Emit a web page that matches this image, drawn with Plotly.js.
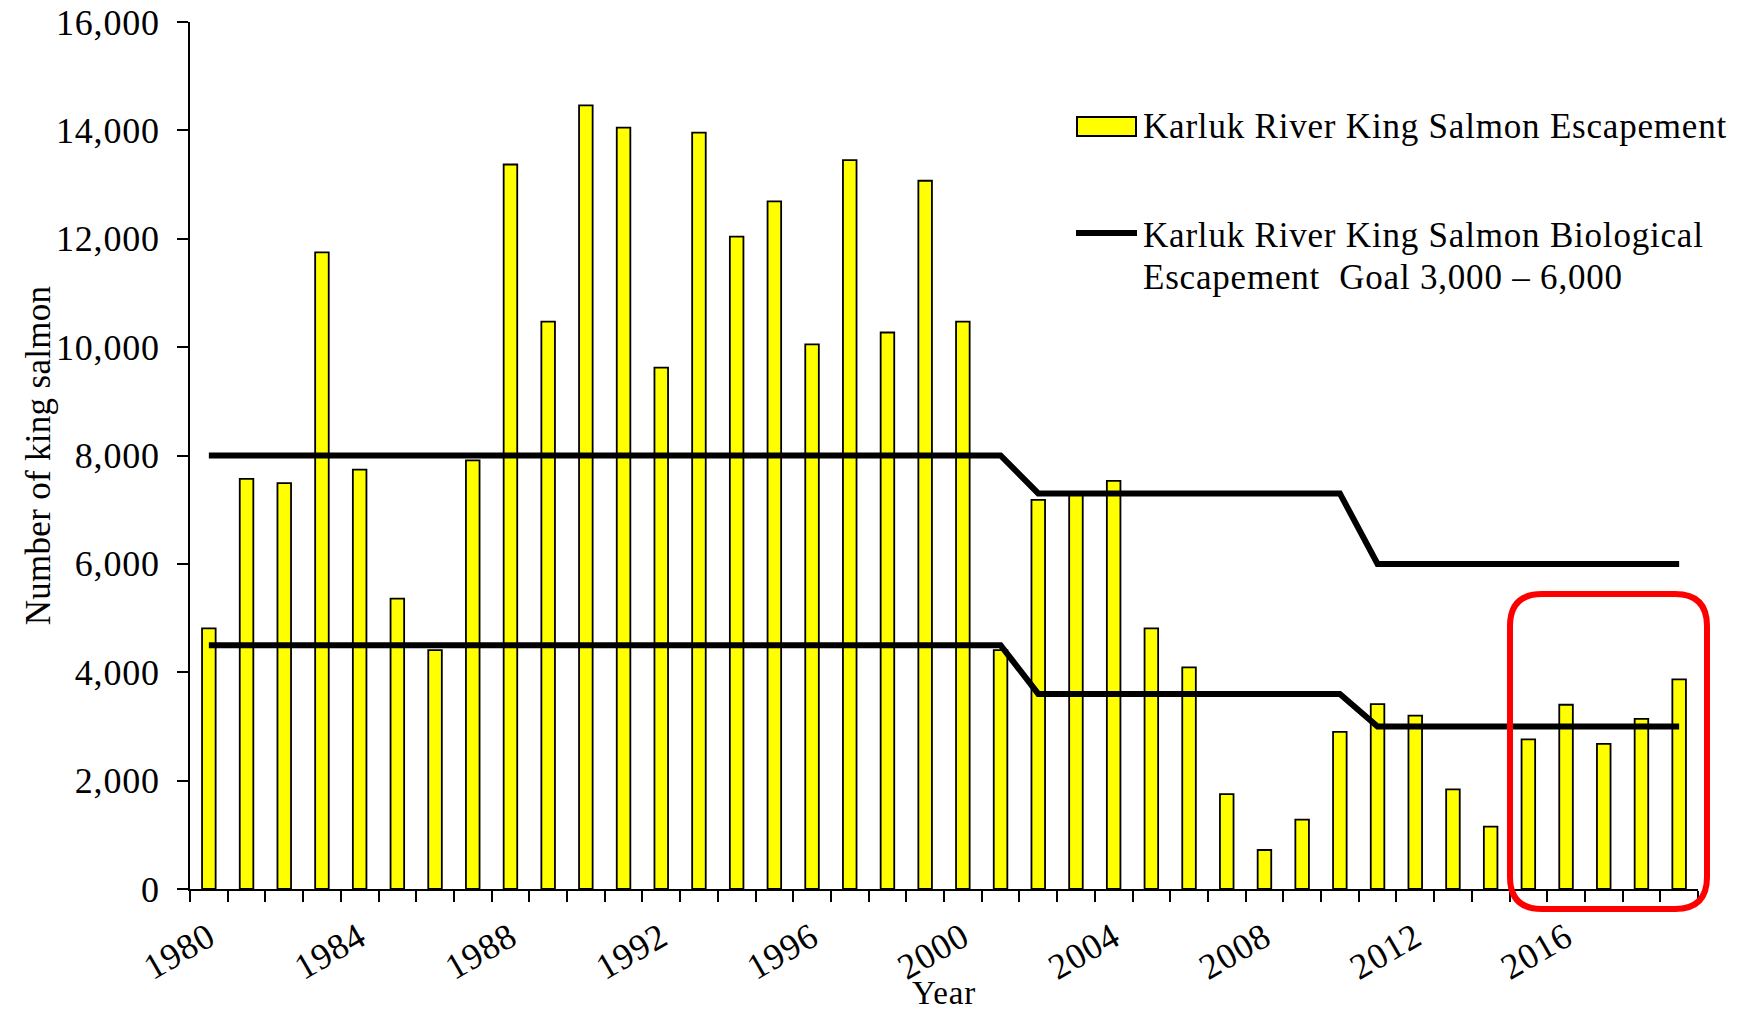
<!DOCTYPE html>
<html>
<head>
<meta charset="utf-8">
<script src="https://cdn.plot.ly/plotly-3.0.1.min.js"></script>
<style>
  html, body { margin: 0; padding: 0; background: #ffffff; }
  #chart { width: 1750px; height: 1011px; }
  #chart svg text { letter-spacing: 0.8px; }
  #chart svg text.ytitle { letter-spacing: 0.3px; }
</style>
</head>
<body>
<div id="chart"></div>
<script>
// ---------------- DATA ----------------
const years = [1980, 1981, 1982, 1983, 1984, 1985, 1986, 1987, 1988, 1989,
               1990, 1991, 1992, 1993, 1994, 1995, 1996, 1997, 1998, 1999,
               2000, 2001, 2002, 2003, 2004, 2005, 2006, 2007, 2008, 2009,
               2010, 2011, 2012, 2013, 2014, 2015, 2016, 2017, 2018, 2019];

const escapement = [4810, 7570, 7490, 11750, 7740, 5360, 4410, 7910, 13370, 10470,
                    14460, 14050, 9620, 13960, 12040, 12690, 10050, 13450, 10270, 13070,
                    10470, 4410, 7180, 7270, 7530, 4810, 4090, 1750, 720, 1280,
                    2900, 3410, 3200, 1840, 1150, 2760, 3400, 2680, 3140, 3870];

const goalUpper = [8000, 8000, 8000, 8000, 8000, 8000, 8000, 8000, 8000, 8000,
                   8000, 8000, 8000, 8000, 8000, 8000, 8000, 8000, 8000, 8000,
                   8000, 8000, 7300, 7300, 7300, 7300, 7300, 7300, 7300, 7300,
                   7300, 6000, 6000, 6000, 6000, 6000, 6000, 6000, 6000, 6000];

const goalLower = [4500, 4500, 4500, 4500, 4500, 4500, 4500, 4500, 4500, 4500,
                   4500, 4500, 4500, 4500, 4500, 4500, 4500, 4500, 4500, 4500,
                   4500, 4500, 3600, 3600, 3600, 3600, 3600, 3600, 3600, 3600,
                   3600, 3000, 3000, 3000, 3000, 3000, 3000, 3000, 3000, 3000];

const tickYears = [1980, 1984, 1988, 1992, 1996, 2000, 2004, 2008, 2012, 2016];
const yTicks = [0, 2000, 4000, 6000, 8000, 10000, 12000, 14000, 16000];

const barName = "Karluk River King Salmon Escapement";
const goalLine1 = "Karluk River King Salmon Biological";
const goalLine2 = "Escapement  Goal 3,000 \u2013 6,000";
const goalName = goalLine1 + " " + goalLine2;

// ---------------- LAYOUT GEOMETRY ----------------
const W = 1750, H = 1011;
const M = { l: 190, r: 52, t: 22, b: 122 };
const PW = W - M.l - M.r, PH = H - M.t - M.b;
const px = X => (X - M.l) / PW;          // pixel x -> paper x
const py = Y => (H - M.b - Y) / PH;      // pixel y -> paper y

const FONT = '"Liberation Serif", "Times New Roman", Times, serif';

const traces = [
  {
    type: 'bar', x: years, y: escapement, name: barName,
    width: 0.36,
    marker: { color: '#FFFF00', line: { color: '#000000', width: 1.8 } },
    showlegend: false, hoverinfo: 'skip'
  },
  {
    type: 'scatter', mode: 'lines', x: years, y: goalUpper, name: goalName,
    line: { color: '#000000', width: 6 }, showlegend: false, hoverinfo: 'skip'
  },
  {
    type: 'scatter', mode: 'lines', x: years, y: goalLower, name: goalName,
    line: { color: '#000000', width: 6 }, showlegend: false, hoverinfo: 'skip'
  }
];

// rounded red highlight box
function roundedRect(X0, Y0, X1, Y1, r) {
  const x0 = px(X0), x1 = px(X1), yT = py(Y0), yB = py(Y1);
  const rx = r / PW, ry = r / PH;
  return `M ${x0 + rx} ${yT} L ${x1 - rx} ${yT} Q ${x1} ${yT} ${x1} ${yT - ry} ` +
         `L ${x1} ${yB + ry} Q ${x1} ${yB} ${x1 - rx} ${yB} ` +
         `L ${x0 + rx} ${yB} Q ${x0} ${yB} ${x0} ${yB + ry} ` +
         `L ${x0} ${yT - ry} Q ${x0} ${yT} ${x0 + rx} ${yT} Z`;
}

const shapes = [
  { type: 'path', xref: 'paper', yref: 'paper', path: roundedRect(1510, 594, 1707, 909, 32),
    line: { color: '#FF0000', width: 6 }, fillcolor: 'rgba(0,0,0,0)', layer: 'above' },
  // legend symbols
  { type: 'rect', xref: 'paper', yref: 'paper', x0: px(1077), x1: px(1136), y0: py(136), y1: py(117),
    fillcolor: '#FFFF00', line: { color: '#000000', width: 2 } },
  { type: 'line', xref: 'paper', yref: 'paper', x0: px(1076), x1: px(1137), y0: py(233), y1: py(233),
    line: { color: '#000000', width: 6 } }
];

const legFont = { family: FONT, size: 35, color: '#000000' };
const annotations = [
  { xref: 'paper', yref: 'paper', x: px(1141), y: py(126), xanchor: 'left', yanchor: 'middle',
    text: barName, showarrow: false, align: 'left', font: legFont },
  { xref: 'paper', yref: 'paper', x: px(1141), y: py(235), xanchor: 'left', yanchor: 'middle',
    text: goalLine1, showarrow: false, align: 'left', font: legFont },
  { xref: 'paper', yref: 'paper', x: px(1141), y: py(277), xanchor: 'left', yanchor: 'middle',
    text: goalLine2, showarrow: false, align: 'left', font: legFont }
];

const layout = {
  width: W, height: H,
  margin: M,
  paper_bgcolor: '#ffffff', plot_bgcolor: '#ffffff',
  font: { family: FONT, size: 34, color: '#000000' },
  showlegend: false,
  bargap: 0,
  xaxis: {
    type: 'linear',
    range: [1979.5, 2019.5],
    tickmode: 'array', tickvals: tickYears, ticktext: tickYears.map(String),
    ticks: 'outside', ticklen: 11, tickcolor: 'rgba(0,0,0,0)', tickwidth: 2,
    tickangle: -30,
    tickfont: { family: FONT, size: 36, color: '#000000' },
    minor: { tickmode: 'linear', tick0: 1979.5, dtick: 1, ticks: 'outside', ticklen: 11,
             tickwidth: 2, tickcolor: '#000000', showgrid: false },
    showline: true, linecolor: '#000000', linewidth: 2,
    showgrid: false, zeroline: false,
    title: { text: 'Year', font: { family: FONT, size: 33, color: '#000000' }, standoff: 0 }
  },
  yaxis: {
    range: [0, 16000],
    tickmode: 'array', tickvals: yTicks,
    tickformat: ',d',
    ticks: 'outside', ticklen: 11, tickwidth: 2, tickcolor: '#000000',
    ticklabelstandoff: 10,
    tickfont: { family: FONT, size: 36, color: '#000000' },
    showline: true, linecolor: '#000000', linewidth: 2,
    showgrid: false, zeroline: false,
    title: { text: 'Number of king salmon', font: { family: FONT, size: 35, color: '#000000' }, standoff: 0 }
  },
  shapes: shapes,
  annotations: annotations
};

Plotly.newPlot('chart', traces, layout, { staticPlot: true, displayModeBar: false });
</script>
</body>
</html>
